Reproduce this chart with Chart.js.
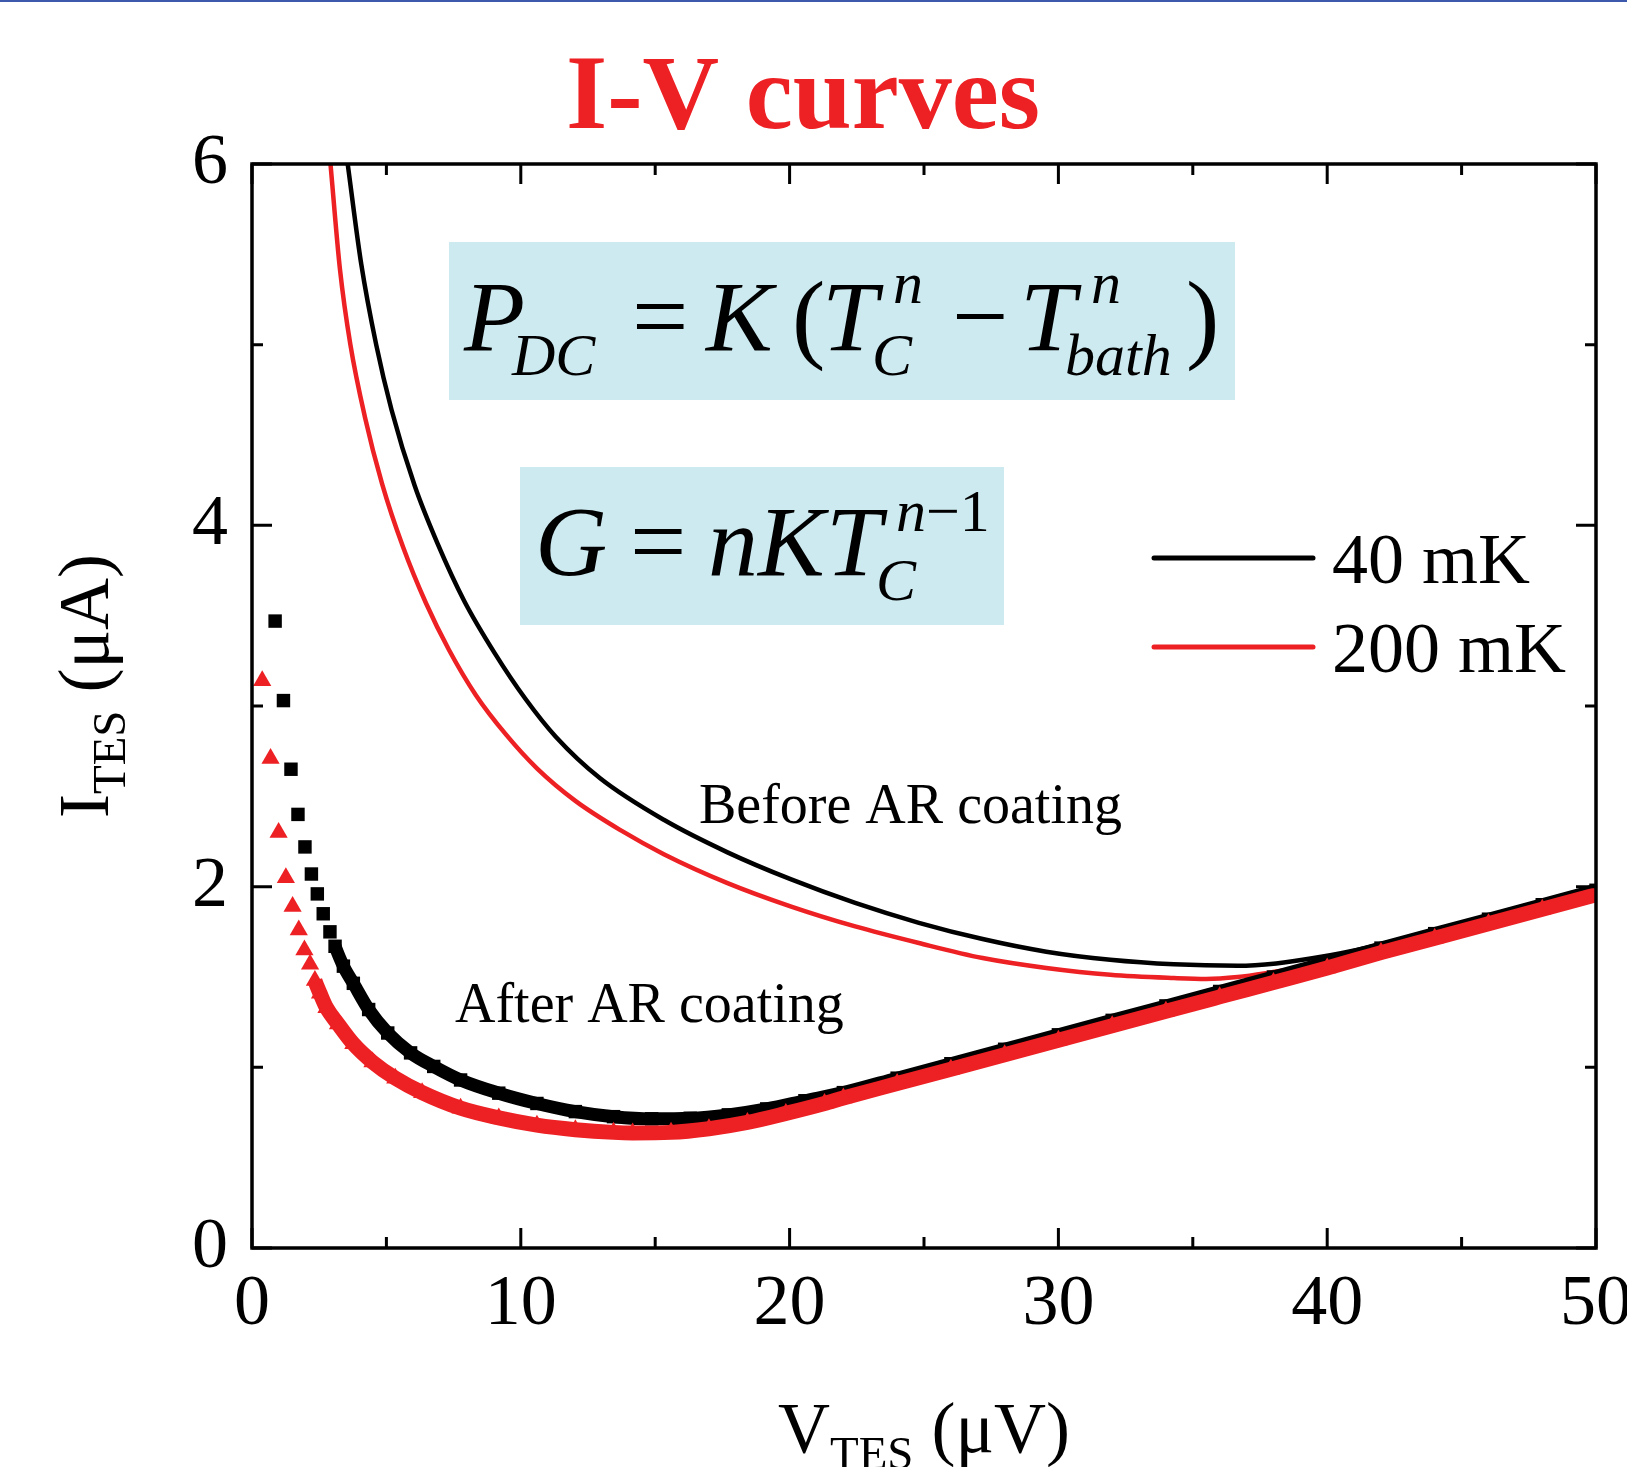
<!DOCTYPE html>
<html>
<head>
<meta charset="utf-8">
<script src="https://cdn.jsdelivr.net/npm/chart.js@4.4.1/dist/chart.umd.min.js"></script>
<style>
    html, body { margin: 0; padding: 0; background: #fff; }
    #wrap { width: 1627px; height: 1467px; }
</style>
</head>
<body>
<div id="wrap"><canvas id="ivChart" width="1627" height="1467"></canvas></div>
<script>
// Before AR coating (lines): V_TES in uV, I_TES in uA
const vBefore40 = [3.56, 4.06, 4.62, 5.19, 6.05, 6.90, 7.90, 9.04, 10.17, 11.3, 12.95, 15.32, 17.69, 20.06, 22.44, 24.81, 27.18, 29.55, 31.93, 34.3, 36.67, 38.1, 39.5, 41.4, 45, 50];
const iBefore40 = [6.0, 5.45, 5.0, 4.64, 4.22, 3.90, 3.58, 3.29, 3.04, 2.83, 2.60, 2.37, 2.19, 2.04, 1.91, 1.80, 1.71, 1.64, 1.595, 1.57, 1.562, 1.575, 1.605, 1.66, 1.80, 2.0];

const vBefore200 = [2.92, 3.27, 3.66, 4.20, 4.84, 5.62, 6.47, 7.33, 8.33, 9.46, 10.6, 12.03, 13.74, 15.32, 17.69, 20.06, 22.44, 24.81, 27.18, 29.55, 31.93, 34.3, 35.5, 36.67, 38.1, 39.5, 41.4, 45, 50];
const iBefore200 = [6.0, 5.42, 5.0, 4.60, 4.23, 3.88, 3.57, 3.31, 3.06, 2.84, 2.655, 2.475, 2.31, 2.18, 2.02, 1.89, 1.78, 1.688, 1.605, 1.55, 1.512, 1.494, 1.489, 1.50, 1.53, 1.562, 1.62, 1.77, 1.97];

// After AR coating (markers)
const vAfter40 = [0.86, 1.17, 1.45, 1.71, 1.97, 2.21, 2.43, 2.65, 2.90, 3.09, 3.4, 3.77, 4.34, 5.05, 5.9, 6.76, 7.76, 9.18, 10.6, 12.03, 13.45, 14.87, 16.3, 17.72, 19.15, 20.57, 22, 24, 26, 28, 30, 32, 34, 36, 38, 40, 42, 44, 46, 48, 50];
const iAfter40 = [3.47, 3.03, 2.65, 2.40, 2.22, 2.07, 1.96, 1.85, 1.75, 1.67, 1.56, 1.465, 1.32, 1.19, 1.08, 1.005, 0.93, 0.857, 0.80, 0.755, 0.727, 0.715, 0.718, 0.737, 0.77, 0.815, 0.86, 0.94, 1.02, 1.10, 1.18, 1.26, 1.34, 1.42, 1.50, 1.58, 1.66, 1.74, 1.82, 1.90, 1.98];

const vAfter200 = [0.38, 0.69, 0.99, 1.26, 1.51, 1.74, 1.95, 2.16, 2.34, 2.53, 2.77, 3.2, 3.77, 4.48, 5.33, 6.33, 7.76, 9.18, 10.6, 12.03, 13.45, 14.16, 15.59, 17.0, 18.43, 19.86, 21.3, 22, 24, 26, 28, 30, 32, 34, 36, 38, 40, 42, 44, 46, 48, 50];
const iAfter200 = [3.14, 2.71, 2.30, 2.05, 1.89, 1.76, 1.65, 1.57, 1.48, 1.41, 1.33, 1.24, 1.13, 1.03, 0.94, 0.86, 0.774, 0.72, 0.68, 0.655, 0.64, 0.637, 0.64, 0.66, 0.695, 0.745, 0.80, 0.83, 0.91, 0.99, 1.07, 1.15, 1.23, 1.31, 1.39, 1.47, 1.55, 1.635, 1.715, 1.795, 1.875, 1.955];

const seriesLabels = ['40 mK', '200 mK'];
const xTickStep = 10;
const yTickStep = 2;

const RED = '#ED2024';
const serif = '"Liberation Serif", "Times New Roman", serif';

function toPoints(vs, is) {
    return vs.map((v, k) => ({ x: v, y: is[k] }));
}

// the first few markers stand apart, the rest merge into a band
const sparse40 = 9;
const sparse200 = 8;

function txt(ctx, s, x, y, size, italic, bold) {
    ctx.font = (italic ? 'italic ' : '') + (bold ? 'bold ' : '') + size + 'px ' + serif;
    ctx.fillText(s, x, y);
    return ctx.measureText(s).width;
}

const decorations = {
    id: 'decorations',
    beforeDatasetsDraw(chart) {
        const ctx = chart.ctx;
        ctx.save();
        // formula boxes
        ctx.fillStyle = '#CDEAF0';
        ctx.fillRect(449, 242, 786, 158);
        ctx.fillRect(520, 467, 484, 158);

        ctx.fillStyle = '#000';
        ctx.textAlign = 'left';
        ctx.textBaseline = 'alphabetic';
        // P_DC = K(T_C^n - T_bath^n)
        txt(ctx, 'P', 464, 350, 100, true);
        txt(ctx, 'DC', 512, 375, 60, true);
        txt(ctx, '=', 632, 350, 100, false);
        txt(ctx, 'K', 706, 350, 100, true);
        txt(ctx, '(', 792, 350, 100, false);
        txt(ctx, 'T', 822, 350, 100, true);
        txt(ctx, 'n', 893, 303, 60, true);
        txt(ctx, 'C', 872, 375, 60, true);
        txt(ctx, '\u2212', 952, 350, 100, false);
        txt(ctx, 'T', 1020, 350, 100, true);
        txt(ctx, 'n', 1091, 303, 60, true);
        txt(ctx, 'bath', 1065, 375, 60, true);
        txt(ctx, ')', 1186, 350, 100, false);
        // G = nKT_C^(n-1)
        txt(ctx, 'G', 535, 575, 100, true);
        txt(ctx, '=', 630, 575, 100, false);
        txt(ctx, 'nK', 708, 575, 100, true);
        txt(ctx, 'T', 826, 575, 100, true);
        const wn = txt(ctx, 'n', 896, 531, 60, true);
        txt(ctx, '\u22121', 896 + wn, 531, 60, false);
        txt(ctx, 'C', 876, 600, 60, true);
        ctx.restore();
    },
    afterDraw(chart) {
        const ctx = chart.ctx;
        const a = chart.chartArea;
        const xs = chart.scales.x;
        const ys = chart.scales.y;
        ctx.save();

        // thin blue rule at the very top
        ctx.fillStyle = '#3D59AB';
        ctx.fillRect(0, 0, chart.width, 2);

        // frame and inward ticks
        ctx.strokeStyle = '#000';
        ctx.lineWidth = 3.5;
        ctx.strokeRect(a.left, a.top, a.right - a.left, a.bottom - a.top);
        ctx.lineWidth = 3;
        const tickX = (px, len) => {
            ctx.beginPath();
            ctx.moveTo(px, a.bottom); ctx.lineTo(px, a.bottom - len);
            ctx.moveTo(px, a.top); ctx.lineTo(px, a.top + len);
            ctx.stroke();
        };
        const tickY = (py, len) => {
            ctx.beginPath();
            ctx.moveTo(a.left, py); ctx.lineTo(a.left + len, py);
            ctx.moveTo(a.right, py); ctx.lineTo(a.right - len, py);
            ctx.stroke();
        };
        const xt = xs.ticks.map(t => t.value);
        xt.forEach((v, k) => {
            tickX(xs.getPixelForValue(v), 20);
            if (k < xt.length - 1) tickX(xs.getPixelForValue((v + xt[k + 1]) / 2), 11);
        });
        const yt = ys.ticks.map(t => t.value);
        yt.forEach((v, k) => {
            tickY(ys.getPixelForValue(v), 20);
            if (k < yt.length - 1) tickY(ys.getPixelForValue((v + yt[k + 1]) / 2), 11);
        });

        // title
        ctx.fillStyle = RED;
        ctx.textAlign = 'center';
        ctx.textBaseline = 'alphabetic';
        txt(ctx, 'I-V curves', 803, 128, 106, false, true);

        // x axis title: V_TES (uV)
        ctx.fillStyle = '#000';
        ctx.textAlign = 'left';
        ctx.font = '72px ' + serif;
        const wV = ctx.measureText('V').width;
        const wRest = ctx.measureText(' (\u03bcV)').width;
        ctx.font = '47px ' + serif;
        const wSub = ctx.measureText('TES').width;
        let x0 = (a.left + a.right) / 2 - (wV + wSub + wRest) / 2;
        x0 += txt(ctx, 'V', x0, 1452, 72);
        x0 += txt(ctx, 'TES', x0, 1469, 47);
        txt(ctx, ' (\u03bcV)', x0, 1452, 72);

        // y axis title: I_TES (uA), rotated
        ctx.font = '72px ' + serif;
        const wI = ctx.measureText('I').width;
        const wRestY = ctx.measureText(' (\u03bcA)').width;
        ctx.font = '47px ' + serif;
        const wSubY = ctx.measureText('TES').width;
        const total = wI + wSubY + wRestY;
        ctx.translate(108, 686 + total / 2);
        ctx.rotate(-Math.PI / 2);
        let y0 = 0;
        y0 += txt(ctx, 'I', y0, 0, 72);
        y0 += txt(ctx, 'TES', y0, 17, 47);
        txt(ctx, ' (\u03bcA)', y0, 0, 72);
        ctx.setTransform(1, 0, 0, 1, 0, 0);

        // labels
        txt(ctx, 'Before AR coating', 699, 823, 56);
        txt(ctx, 'After AR coating', 455, 1022, 56);

        // legend for the two line series
        const ds = chart.data.datasets;
        const legendRows = [[ds[3], 558, 583], [ds[2], 647, 672]];
        legendRows.forEach(([d, ly, ty]) => {
            ctx.strokeStyle = d.borderColor;
            ctx.lineWidth = 5;
            ctx.lineCap = 'round';
            ctx.beginPath();
            ctx.moveTo(1154, ly);
            ctx.lineTo(1313, ly);
            ctx.stroke();
            ctx.fillStyle = '#000';
            txt(ctx, d.label, 1332, ty, 72);
        });
        ctx.restore();
    }
};

const ivChart = new Chart(document.getElementById('ivChart'), {
    type: 'scatter',
    data: {
        datasets: [
            {
                label: seriesLabels[1] + ' after',
                data: toPoints(vAfter200, iAfter200),
                showLine: true,
                borderColor: RED,
                backgroundColor: RED,
                borderWidth: 15,
                cubicInterpolationMode: 'monotone',
                pointStyle: 'triangle',
                pointRadius: 10.5,
                pointBorderWidth: 0,
                segment: { borderColor: c => c.p0DataIndex < sparse200 ? 'rgba(0,0,0,0)' : undefined },
                order: 0
            },
            {
                label: seriesLabels[0] + ' after',
                data: toPoints(vAfter40, iAfter40),
                showLine: true,
                borderColor: '#000',
                backgroundColor: '#000',
                borderWidth: 13,
                cubicInterpolationMode: 'monotone',
                pointStyle: 'rect',
                pointRadius: 9.5,
                pointBorderWidth: 0,
                segment: { borderColor: c => c.p0DataIndex < sparse40 ? 'rgba(0,0,0,0)' : undefined },
                order: 1
            },
            {
                label: seriesLabels[1],
                data: toPoints(vBefore200, iBefore200),
                showLine: true,
                borderColor: RED,
                borderWidth: 4.5,
                pointRadius: 0,
                cubicInterpolationMode: 'monotone',
                order: 2
            },
            {
                label: seriesLabels[0],
                data: toPoints(vBefore40, iBefore40),
                showLine: true,
                borderColor: '#000',
                borderWidth: 4.5,
                pointRadius: 0,
                cubicInterpolationMode: 'monotone',
                order: 3
            }
        ]
    },
    options: {
        responsive: false,
        animation: false,
        events: [],
        layout: {
            autoPadding: false,
            padding: { left: 0, right: 31, top: 164, bottom: 0 }
        },
        plugins: {
            legend: { display: false },
            title: { display: false },
            tooltip: { enabled: false }
        },
        scales: {
            x: {
                type: 'linear',
                min: 0,
                max: 50,
                ticks: {
                    stepSize: xTickStep,
                    color: '#000',
                    padding: 14,
                    maxRotation: 0,
                    autoSkip: false,
                    font: { family: serif, size: 72 }
                },
                grid: { display: false, drawTicks: false },
                border: { display: false },
                afterFit: (scale) => {
                    scale.height = 219;
                    scale.paddingLeft = 0;
                    scale.paddingRight = 0;
                }
            },
            y: {
                type: 'linear',
                min: 0,
                max: 6,
                ticks: {
                    stepSize: yTickStep,
                    color: '#000',
                    padding: 24,
                    font: { family: serif, size: 72 }
                },
                grid: { display: false, drawTicks: false },
                border: { display: false },
                afterFit: (scale) => {
                    scale.width = 252;
                    scale.paddingTop = 0;
                    scale.paddingBottom = 0;
                }
            }
        }
    },
    plugins: [decorations]
});
</script>
</body>
</html>
